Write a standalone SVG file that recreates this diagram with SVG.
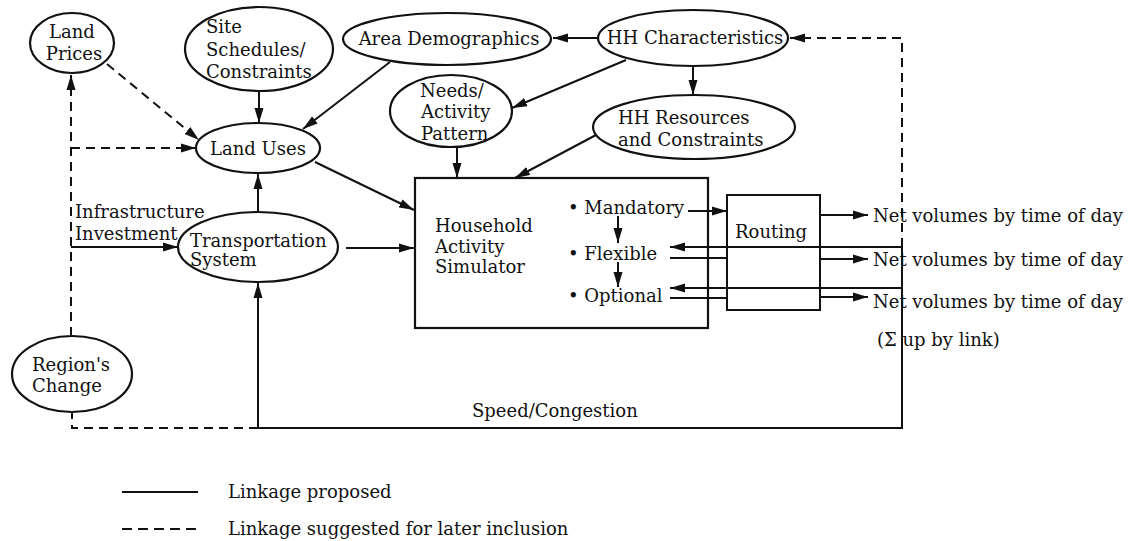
<svg xmlns="http://www.w3.org/2000/svg" width="1140" height="541" viewBox="0 0 1140 541">
<defs>
<marker id="ah" markerUnits="userSpaceOnUse" markerWidth="16" markerHeight="10" refX="15" refY="5" orient="auto">
<path d="M0,0.5 L15,5 L0,9.5 z" fill="#111"/>
</marker>
<style>
.n{fill:#fff;stroke:#111;stroke-width:2.2}
.t{font-family:"DejaVu Serif","Liberation Serif",serif;font-size:18px;fill:#111}
.m{text-anchor:middle}
.s{fill:none;stroke:#111;stroke-width:2}
.d{fill:none;stroke:#111;stroke-width:2;stroke-dasharray:9 6}
.a{marker-end:url(#ah)}
</style>
</defs>
<rect width="1140" height="541" fill="#fff"/>

<g id="connectors">
<path class="d a" d="M107,64 L199,140"/>
<path class="d a" d="M71,336 V75"/>
<path class="d a" d="M71,148 H196"/>
<path class="s a" d="M71,247 H178"/>
<path class="s a" d="M259,91 V123"/>
<path class="s a" d="M390,62 L303,129"/>
<path class="s a" d="M598,38 H553"/>
<path class="s a" d="M626,60 L512,108"/>
<path class="s a" d="M693,66 V95"/>
<path class="d a" d="M902,247 V38 H790"/>
<path class="s a" d="M457,147 V178"/>
<path class="s a" d="M596,135 L515,178"/>
<path class="s a" d="M315,162 L414,210"/>
<path class="s a" d="M258,212 V174"/>
<path class="s a" d="M346,248 H414"/>
<path class="s" d="M902,247 V428 H258"/>
<path class="s a" d="M258,428 V283"/>
<path class="d" d="M258,428 H72 V412"/>
<path class="s a" d="M902,247 H670"/>
<path class="s a" d="M902,288 H670"/>
<path class="s" d="M670,258 H727"/>
<path class="s" d="M670,298 H727"/>
<path class="s a" d="M688,211 H727"/>
<path class="s a" d="M618,216 V243"/>
<path class="s a" d="M618,262 V287"/>
<path class="s a" d="M820,215 H868"/>
<path class="s a" d="M820,259 H868"/>
<path class="s a" d="M820,297 H868"/>
</g>

<g id="land-prices">
<ellipse class="n" cx="72" cy="43" rx="42" ry="30"/>
<text class="t m" x="72" y="38">Land</text>
<text class="t m" x="74" y="60">Prices</text>
</g>
<g id="site-schedules">
<ellipse class="n" cx="259" cy="49" rx="74" ry="42"/>
<text class="t" x="206" y="33">Site</text>
<text class="t" x="206" y="56">Schedules/</text>
<text class="t" x="206" y="78">Constraints</text>
</g>
<g id="land-uses">
<ellipse class="n" cx="258" cy="148" rx="62" ry="25"/>
<text class="t m" x="258" y="155">Land Uses</text>
</g>
<g id="area-demographics">
<ellipse class="n" cx="447" cy="39" rx="104" ry="26"/>
<text class="t m" x="449" y="45">Area Demographics</text>
</g>
<g id="hh-characteristics">
<ellipse class="n" cx="693" cy="38" rx="95" ry="28"/>
<text class="t m" x="695" y="44">HH Characteristics</text>
</g>
<g id="needs-activity">
<ellipse class="n" cx="451" cy="111" rx="61" ry="36"/>
<text class="t" x="420" y="97">Needs/</text>
<text class="t" x="421" y="118">Activity</text>
<text class="t" x="421" y="140">Pattern</text>
</g>
<g id="hh-resources">
<ellipse class="n" cx="694" cy="127" rx="101" ry="32"/>
<text class="t" x="618" y="124">HH Resources</text>
<text class="t" x="618" y="146">and Constraints</text>
</g>
<g id="transportation-system">
<ellipse class="n" cx="258" cy="247" rx="80" ry="35"/>
<text class="t" x="190" y="247">Transportation</text>
<text class="t" x="190" y="266">System</text>
</g>
<g id="regions-change">
<ellipse class="n" cx="72" cy="374" rx="60" ry="38"/>
<text class="t" x="32" y="371">Region's</text>
<text class="t" x="32" y="392">Change</text>
</g>
<g id="infrastructure-label">
<text class="t" x="75" y="218">Infrastructure</text>
<text class="t" x="75" y="240">Investment</text>
</g>
<g id="household-activity-simulator">
<rect class="n" x="415" y="178" width="293" height="150" fill="none" style="fill:none"/>
<text class="t" x="435" y="232">Household</text>
<text class="t" x="435" y="253">Activity</text>
<text class="t" x="435" y="273">Simulator</text>
<text class="t" x="568" y="214">• Mandatory</text>
<text class="t" x="568" y="260">• Flexible</text>
<text class="t" x="568" y="302">• Optional</text>
</g>
<g id="routing">
<rect class="s" x="727" y="195" width="93" height="115"/>
<text class="t" x="735" y="238">Routing</text>
</g>
<g id="outputs">
<text class="t" x="873" y="222">Net volumes by time of day</text>
<text class="t" x="873" y="266">Net volumes by time of day</text>
<text class="t" x="873" y="308">Net volumes by time of day</text>
<text class="t" x="877" y="346">(Σ up by link)</text>
<text class="t" x="472" y="417">Speed/Congestion</text>
</g>
<g id="legend">
<line class="s" x1="122" y1="492" x2="198" y2="492"/>
<text class="t" x="228" y="498">Linkage proposed</text>
<line class="d" x1="122" y1="529" x2="198" y2="529" style="stroke-dasharray:10 6"/>
<text class="t" x="228" y="535">Linkage suggested for later inclusion</text>
</g>
</svg>
